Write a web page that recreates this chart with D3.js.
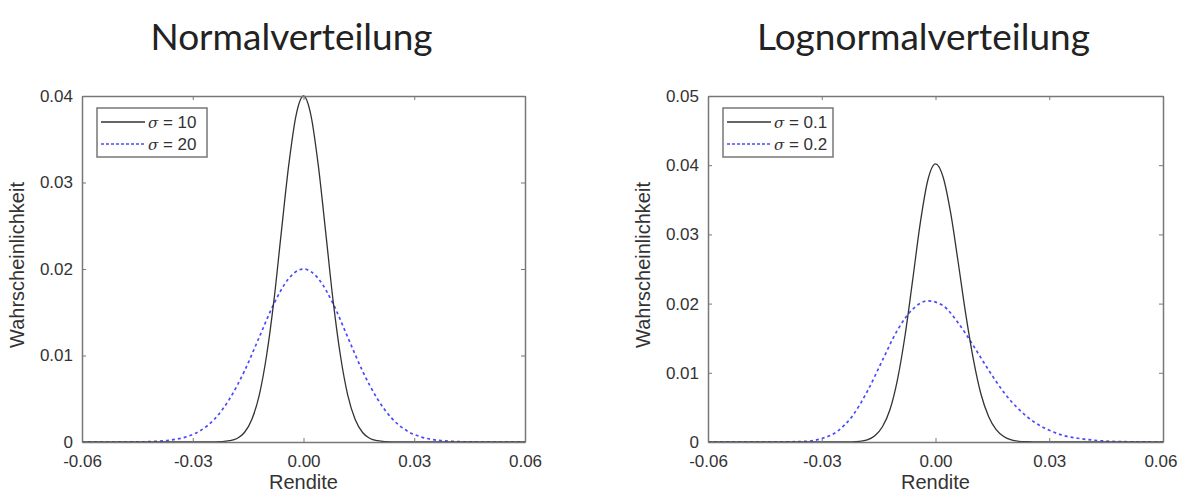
<!DOCTYPE html>
<html lang="de">
<head>
<meta charset="UTF-8">
<title>Normal- und Lognormalverteilung</title>
<script src="https://d3js.org/d3.v7.min.js"></script>
<style>
  body { margin: 0; background: #fff; }
  text { font-family: "Liberation Sans", Arial, sans-serif; fill: #333; }
  .title { font-family: Lato, "Open Sans", sans-serif; fill: #222; }
</style>
</head>
<body>
<svg id="chart"></svg>

<script>
// --- data ---
let xTicks = [-0.06, -0.03, 0.00, 0.03, 0.06];
let xTickLabels = ["-0.06", "-0.03", "0.00", "0.03", "0.06"];

// Normalverteilung
let normTicks = [0, 0.01, 0.02, 0.03, 0.04];
let normTickLabels = ["0", "0.01", "0.02", "0.03", "0.04"];
let normLegend = ["10", "20"];

let norm10X = [-0.06, -0.03, -0.024, -0.02, -0.018, -0.016, -0.014, -0.012, -0.01, -0.008, -0.006, -0.004, -0.002, 0,
               0.002, 0.004, 0.006, 0.008, 0.01, 0.012, 0.014, 0.016, 0.018, 0.02, 0.024, 0.03, 0.06];
let norm10Y = [0, 0, 0, 0.00015, 0.0004, 0.0011, 0.0026, 0.0054, 0.0100, 0.0164, 0.0243, 0.0320, 0.0378, 0.0400,
               0.0378, 0.0320, 0.0243, 0.0164, 0.0100, 0.0054, 0.0026, 0.0011, 0.0004, 0.00015, 0, 0, 0];

let norm20X = [-0.06, -0.048, -0.044, -0.04, -0.036, -0.032, -0.028, -0.024, -0.02, -0.016, -0.012, -0.008, -0.004, 0,
               0.004, 0.008, 0.012, 0.016, 0.02, 0.024, 0.028, 0.032, 0.036, 0.04, 0.044, 0.048, 0.06];
let norm20Y = [0, 0, 0.00002, 0.00008, 0.00022, 0.00057, 0.0013, 0.0027, 0.0050, 0.0082, 0.0121, 0.0160, 0.0189, 0.0200,
               0.0189, 0.0160, 0.0121, 0.0082, 0.0050, 0.0027, 0.0013, 0.00057, 0.00022, 0.00008, 0.00002, 0, 0];

// Lognormalverteilung
let lognTicks = [0, 0.01, 0.02, 0.03, 0.04, 0.05];
let lognTickLabels = ["0", "0.01", "0.02", "0.03", "0.04", "0.05"];
let lognLegend = ["0.1", "0.2"];

let logn01X = [-0.06, -0.03, -0.024, -0.02, -0.018, -0.016, -0.014, -0.012, -0.01, -0.008, -0.006, -0.004, -0.002, 0,
               0.002, 0.004, 0.006, 0.008, 0.01, 0.012, 0.014, 0.016, 0.018, 0.02, 0.022, 0.024, 0.028, 0.04, 0.06];
let logn01Y = [0, 0, 0, 0.0001, 0.0003, 0.0009, 0.0022, 0.0047, 0.0091, 0.0155, 0.0235, 0.0317, 0.0379, 0.0402,
               0.0383, 0.0331, 0.0259, 0.0184, 0.0119, 0.0069, 0.0037, 0.0018, 0.0008, 0.0003, 0.0001, 0.00004, 0, 0, 0];

let logn02X = [-0.06, -0.042, -0.038, -0.034, -0.03, -0.026, -0.022, -0.018, -0.014, -0.01, -0.006, -0.002,
               0.002, 0.006, 0.01, 0.014, 0.018, 0.022, 0.026, 0.03, 0.034, 0.038, 0.042, 0.046, 0.05, 0.054, 0.06];
let logn02Y = [0, 0, 0.00003, 0.0001, 0.0005, 0.0015, 0.0037, 0.0073, 0.0118, 0.0162, 0.0192, 0.0204,
               0.0197, 0.0172, 0.0139, 0.0104, 0.0072, 0.0047, 0.0029, 0.0017, 0.0009, 0.0005, 0.00025, 0.0001, 0.00004, 0.00001, 0];

// --- layout ---
let width = 1178, height = 496;
let svg = d3.select("#chart").attr("width", width).attr("height", height);

function zip(xs, ys) {
    return xs.map(function (x, i) { return [x, ys[i]]; });
}

function panel(opts) {
    let x = d3.scaleLinear().domain([-0.06, 0.06]).range([opts.left, opts.right]);
    let y = d3.scaleLinear().domain([0, opts.yMax]).range([opts.bottom, opts.top]);
    let g = svg.append("g");

    // title
    g.append("text")
        .attr("class", "title")
        .attr("x", (opts.left + opts.right) / 2 - 12)
        .attr("y", 50)
        .attr("text-anchor", "middle")
        .style("font-size", "37px")
        .text(opts.title);

    // curves
    let line = d3.line()
        .x(function (d) { return x(d[0]); })
        .y(function (d) { return y(d[1]); })
        .curve(d3.curveMonotoneX);

    g.append("path")
        .datum(zip(opts.x2, opts.y2))
        .attr("d", line)
        .attr("fill", "none")
        .attr("stroke", "#4a4aff")
        .attr("stroke-width", 1.7)
        .attr("stroke-dasharray", "3,3");

    g.append("path")
        .datum(zip(opts.x1, opts.y1))
        .attr("d", line)
        .attr("fill", "none")
        .attr("stroke", "#333")
        .attr("stroke-width", 1.3);

    // axes box with inward ticks
    let axisColor = "#777";
    let xb = g.append("g").attr("transform", "translate(0," + opts.bottom + ")")
        .call(d3.axisBottom(x).tickValues(xTicks).tickSizeInner(-4).tickSizeOuter(0)
            .tickFormat(function (d, i) { return xTickLabels[i]; }));
    let xt = g.append("g").attr("transform", "translate(0," + opts.top + ")")
        .call(d3.axisTop(x).tickValues(xTicks).tickSizeInner(-4).tickSizeOuter(0).tickFormat(""));
    let yl = g.append("g").attr("transform", "translate(" + opts.left + ",0)")
        .call(d3.axisLeft(y).tickValues(opts.yTicks).tickSizeInner(-4).tickSizeOuter(0)
            .tickFormat(function (d, i) { return opts.yTickLabels[i]; }));
    let yr = g.append("g").attr("transform", "translate(" + opts.right + ",0)")
        .call(d3.axisRight(y).tickValues(opts.yTicks).tickSizeInner(-4).tickSizeOuter(0).tickFormat(""));

    [xb, xt, yl, yr].forEach(function (a) {
        a.selectAll("path").attr("stroke", axisColor).attr("stroke-width", 1.5);
        a.selectAll("line").attr("stroke", axisColor);
        a.selectAll("text").style("font-size", "17px").attr("fill", "#333")
            .attr("font-family", "Liberation Sans, Arial, sans-serif");
    });
    xb.selectAll("text").attr("dy", "1.3em");
    yl.selectAll("text").attr("x", -9);

    // keep edge labels inside the page
    xb.selectAll("text").each(function () {
        let b = this.getBBox();
        let tx = x(d3.select(this.parentNode).datum());
        if (tx + b.x + b.width > width - 1) {
            d3.select(this).attr("dx", (width - 1) - (tx + b.x + b.width));
        }
    });

    // axis labels
    g.append("text")
        .attr("x", (opts.left + opts.right) / 2)
        .attr("y", opts.bottom + 47)
        .attr("text-anchor", "middle")
        .style("font-size", "20px")
        .text("Rendite");

    g.append("text")
        .attr("transform", "translate(" + (opts.left - 58) + "," + ((opts.top + opts.bottom) / 2 - 4) + ") rotate(-90)")
        .attr("text-anchor", "middle")
        .style("font-size", "20px")
        .text("Wahrscheinlichkeit");

    // legend
    let lx = opts.left + 15, ly = opts.top + 12;
    g.append("rect")
        .attr("x", lx).attr("y", ly)
        .attr("width", opts.legendW).attr("height", 49)
        .attr("fill", "#fff")
        .attr("stroke", "#777")
        .attr("stroke-width", 1.5);

    let entries = [
        {label: opts.legend[0], color: "#333", dash: null},
        {label: opts.legend[1], color: "#4a4aff", dash: "3,2"}
    ];
    entries.forEach(function (e, i) {
        let yy = ly + 14 + i * 22;
        g.append("line")
            .attr("x1", lx + 4).attr("x2", lx + 48)
            .attr("y1", yy).attr("y2", yy)
            .attr("stroke", e.color)
            .attr("stroke-width", e.dash ? 1.7 : 1.3)
            .attr("stroke-dasharray", e.dash);
        let t = g.append("text")
            .attr("x", lx + 51).attr("y", yy + 6)
            .style("font-size", "17px");
        t.append("tspan").style("font-style", "italic")
            .attr("font-family", "DejaVu Serif, serif").style("font-size", "15px").text("\u03c3");
        t.append("tspan").text(" = " + e.label);
    });
}

panel({
    title: "Normalverteilung",
    left: 82, right: 525, top: 96, bottom: 442,
    yMax: 0.04, yTicks: normTicks, yTickLabels: normTickLabels,
    x1: norm10X, y1: norm10Y, x2: norm20X, y2: norm20Y,
    legend: normLegend, legendW: 110
});

panel({
    title: "Lognormalverteilung",
    left: 708, right: 1163, top: 96, bottom: 442,
    yMax: 0.05, yTicks: lognTicks, yTickLabels: lognTickLabels,
    x1: logn01X, y1: logn01Y, x2: logn02X, y2: logn02Y,
    legend: lognLegend, legendW: 110
});
</script>
</body>
</html>
